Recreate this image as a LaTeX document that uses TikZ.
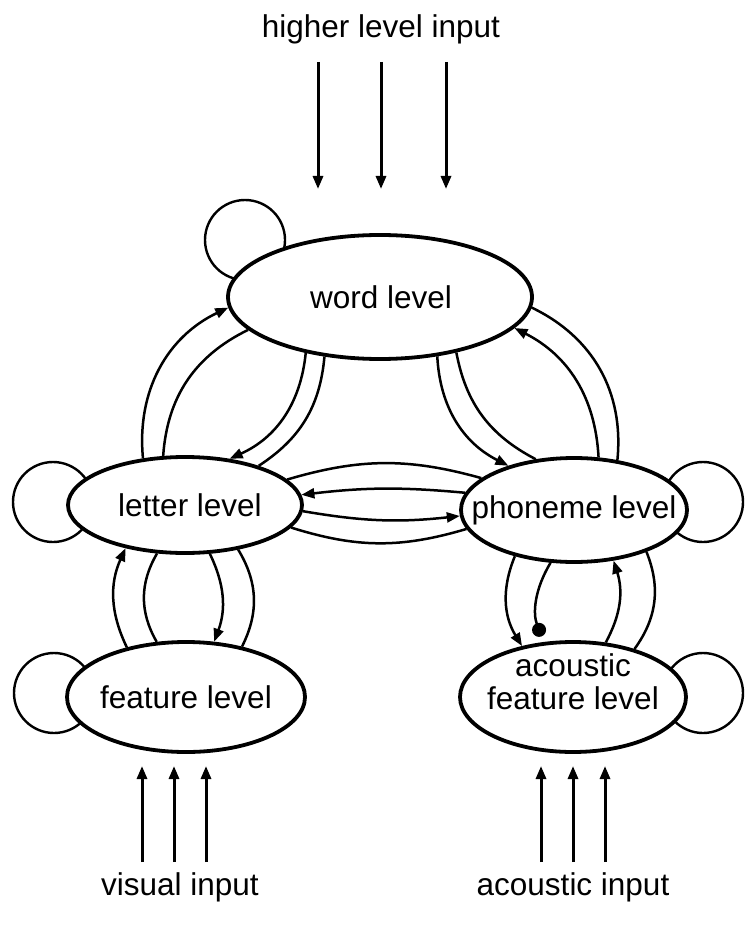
\documentclass[tikz,border=0pt]{standalone}
\usepackage{fontspec}
\setmainfont{Liberation Sans}
\usetikzlibrary{shapes.geometric,arrows.meta}

\tikzset{
  lvl/.style={draw, ellipse, line width=3.8pt, fill=white, inner sep=0pt},
  loopring/.style={draw, circle, line width=2.4pt, inner sep=0pt, minimum size=80pt},
  lbl/.style={font=\fontsize{31.5}{34}\selectfont, inner sep=0pt, anchor=base, align=center},
  conn/.style={line width=2.5pt},
  arr/.style={conn, -{Triangle[length=13pt,width=10pt]}},
  dotend/.style={conn, -{Circle[length=14pt]}},
  feed/.style={line width=3pt, -{Triangle[length=13pt,width=10pt]}},
}

\begin{document}
\begin{tikzpicture}[x=1pt, y=-1pt]
\useasboundingbox (0,0) rectangle (744,925);

% self-excitation rings, partly hidden behind the levels
\node[loopring] (wloop) at (245,240) {};
\node[loopring] (lloop) at (53,502) {};
\node[loopring] (ploop) at (703,502) {};
\node[loopring] (floop) at (54,693) {};
\node[loopring] (aloop) at (703,693) {};

% processing levels
\node[lvl, minimum width=304pt, minimum height=124pt] (w) at (380,297) {};
\node[lvl, minimum width=234pt, minimum height=96pt]  (l) at (185,505) {};
\node[lvl, minimum width=226pt, minimum height=104pt] (p) at (574,510) {};
\node[lvl, minimum width=238pt, minimum height=110pt] (f) at (186,697) {};
\node[lvl, minimum width=226pt, minimum height=110pt] (a) at (573,697) {};

% level names
\node[lbl] (wt) at (381,308) {word level};
\node[lbl] (lt) at (190,516) {letter level};
\node[lbl] (pt) at (574,518) {phoneme level};
\node[lbl] (ft) at (186,708) {feature level};
\node[lbl] (at1) at (573,676) {acoustic};
\node[lbl] (at2) at (573,709) {feature level};

% external inputs
\node[lbl] (hin) at (381,38) {higher level input};
\node[lbl] (vin) at (180,895) {visual input};
\node[lbl] (ain) at (573,895) {acoustic input};

\coordinate (h1s) at (318,62);  \coordinate (h1e) at (318,189);
\coordinate (h2s) at (381,62);  \coordinate (h2e) at (381,189);
\coordinate (h3s) at (446,62);  \coordinate (h3e) at (446,189);
\draw[feed] (h1s) -- (h1e);
\draw[feed] (h2s) -- (h2e);
\draw[feed] (h3s) -- (h3e);

\coordinate (v1s) at (142,862); \coordinate (v1e) at (142,766);
\coordinate (v2s) at (174,862); \coordinate (v2e) at (174,766);
\coordinate (v3s) at (206,862); \coordinate (v3e) at (206,766);
\draw[feed] (v1s) -- (v1e);
\draw[feed] (v2s) -- (v2e);
\draw[feed] (v3s) -- (v3e);

\coordinate (a1s) at (541,862); \coordinate (a1e) at (541,766);
\coordinate (a2s) at (573,862); \coordinate (a2e) at (573,766);
\coordinate (a3s) at (605,862); \coordinate (a3e) at (605,766);
\draw[feed] (a1s) -- (a1e);
\draw[feed] (a2s) -- (a2e);
\draw[feed] (a3s) -- (a3e);

% letter <-> word
\draw[arr]  (l.132) to[bend left=35] (w.184);
\draw[conn] (l.114) to[bend left=30] (w.194);
\draw[arr]  (w.217) to[bend left=30] (l.46);
\draw[conn] (w.227) to[bend left=26] (l.28);

% word <-> phoneme
\draw[arr]  (w.314) to[bend right=30] (p.146);
\draw[conn] (w.324) to[bend right=26] (p.127);
\draw[arr]  (p.65)  to[bend right=30] (w.347);
\draw[conn] (p.49)  to[bend right=35] (w.356);

% letter <-> phoneme
\draw[conn] (l.14)  to[bend left=16]  (p.161);
\draw[arr]  (p.171) to[bend right=6]  (l.5);
\draw[arr]  (l.-3)  to[bend right=8]  (p.183);
\draw[conn] (l.-12) to[bend right=17] (p.190);

% feature <-> letter
\draw[arr]  (f.140) to[bend left=25]  (l.216);
\draw[conn] (l.240) to[bend right=30] (f.118);
\draw[arr]  (l.297) to[bend left=23]  (f.63);
\draw[conn] (l.320) to[bend left=29]  (f.42);

% phoneme <-> acoustic feature
\draw[arr]  (p.218) to[bend right=27] (a.135);
\draw[dotend, shorten >=6pt] (p.246) to[bend right=26] (a.118);
\draw[arr]  (a.59)  to[bend right=23] (p.308);
\draw[conn] (p.330) to[bend left=29]  (a.38);

\end{tikzpicture}
\end{document}
